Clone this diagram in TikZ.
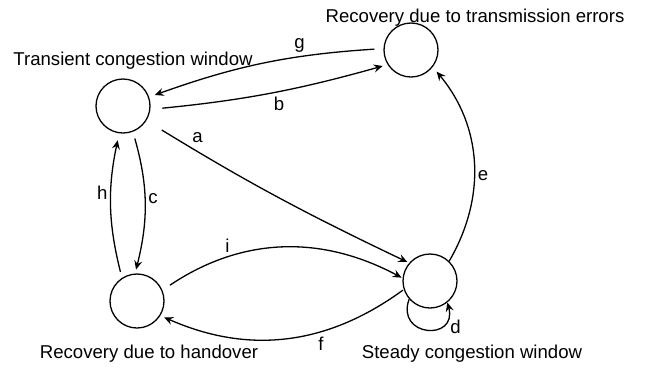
\documentclass[tikz,border=0pt]{standalone}
\usepackage{fontspec}
\setmainfont{Liberation Sans}
\usetikzlibrary{positioning,arrows.meta}
\tikzstyle{phase}=[draw,circle,minimum size=27pt,inner sep=0pt]
\newcommand{\addPhase}[4]{\node[phase,#3](#1)[#4]{#2};}
\newcommand{\addEdge}[4]{\path[->] (#1) edge [#4] node {#3} (#2);}
\begin{document}
\begin{tikzpicture}[x=0.5pt,y=-0.5pt,
    >={Stealth[length=4.5pt,width=4pt,inset=1.6pt]},auto,
    line width=0.65pt,inner sep=1.5pt,
    font=\fontsize{9.3}{11}\selectfont
    ]
    \useasboundingbox (0,0) rectangle (653,371);
    \addPhase{T}{}{}{at={(123,106)}}
    \addPhase{R}{}{}{at={(411,50)}}
    \addPhase{H}{}{}{at={(137,301)}}
    \addPhase{S}{}{}{at={(430,281)}}
    \node[anchor=base] (Tname) at (133,65) {Transient congestion window};
    \node[anchor=base] (Rname) at (475,22) {Recovery due to transmission errors};
    \node[anchor=base] (Hname) at (149,358) {Recovery due to handover};
    \node[anchor=base] (Sname) at (472,358) {Steady congestion window};
    \addEdge{R.177}{T.19}{g}{bend right=8,swap,pos=.3,shorten <=4.5pt,shorten >=3pt}
    \addEdge{T.-7}{R.212}{b}{bend right=5,swap,pos=.5,shorten <=6pt,shorten >=2.5pt}
    \addEdge{T.-32}{S.139}{a}{bend right=3,pos=.15,shorten <=9pt,shorten >=1pt}
    \addEdge{T.-69}{H.94}{c}{bend left=15,pos=.47,shorten <=3.5pt,shorten >=2pt}
    \addEdge{H.123}{T.-98}{h}{bend left=13,pos=.6,shorten <=3pt,shorten >=3.5pt}
    \addEdge{H.23}{S.174}{i}{bend left=31,pos=.3,shorten <=4.5pt,shorten >=0.5pt}
    \addEdge{S.198}{H.-32}{f}{bend left=30,pos=.38,shorten <=0.5pt,shorten >=2pt}
    \addEdge{S.46}{R.-38}{e}{bend right=35,swap,pos=.43,shorten >=3pt}
    \addEdge{S.221}{S.-51}{d}{out=250,in=285,looseness=2.7,pos=.85,swap,inner sep=1pt}
  \end{tikzpicture}
\end{document}
